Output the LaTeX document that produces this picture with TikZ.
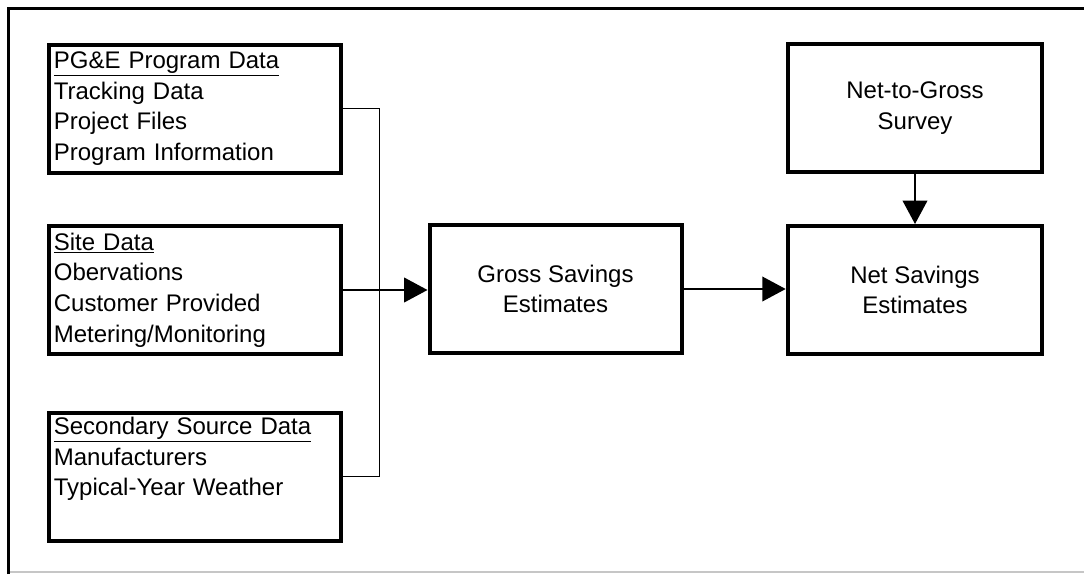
\documentclass[tikz,border=0pt]{standalone}
\usepackage{fontspec}
\setmainfont{Liberation Sans}
\usetikzlibrary{arrows.meta}

\tikzset{every picture/.style={line width=0.75pt}}
\tikzset{
  srcbox/.style={draw, line width=3pt, anchor=north west, align=left, inner xsep=3pt,
    minimum width=219pt, minimum height=96pt, text width=211pt},
  stepbox/.style={draw, line width=3pt, align=center, minimum height=96pt},
  feed/.style={line width=1.1pt},
  arr/.style={feed, -{Triangle[length=17.5pt, width=18.5pt]}}
}

\begin{document}
\begin{tikzpicture}[x=0.75pt,y=0.75pt,yscale=-1,xscale=1,
  every node/.style={font=\fontsize{18pt}{23pt}\selectfont}]
\useasboundingbox (0,0) rectangle (1084,575);

%Shape: Frame
\draw [line width=2.5pt] (8.5,574) -- (8.5,8.5) -- (1084,8.5) ;
\draw [color=gray!45, line width=1pt] (10,572) -- (1084,572) ;

%Shape: Rectangle (sources)
\node [srcbox] (pge) at (46.5,42.5) {\underline{PG\&E Program Data}\\Tracking Data\\Project Files\\Program Information};
\node [srcbox] (site) at (46.5,224) {\underline{Site Data}\\Obervations\\Customer Provided\\Metering/Monitoring};
\node [srcbox] (sec) at (46.5,410.5) {\underline{Secondary Source Data}\\Manufacturers\\Typical-Year Weather\\ \strut};

%Shape: Rectangle (estimates)
\node [stepbox, minimum width=189pt] (gross) at (555.5,289) {Gross Savings\\Estimates};
\node [stepbox, minimum width=191pt] (ntg) at (915,108) {Net-to-Gross\\Survey};
\node [stepbox, minimum width=191pt] (net) at (915,290) {Net Savings\\Estimates};

%Straight Lines
\coordinate (bus) at (379.5,0);
\draw [feed] (pge.east) -- (pge.east -| bus) -- (sec.east -| bus) -- (sec.east) ;
\draw [arr] (site.east) -- (site.east -| gross.west) ;
\draw [arr] (gross.east) -- (gross.east -| net.west) ;
\draw [arr] (ntg.south) -- (net.north) ;
\end{tikzpicture}
\end{document}
